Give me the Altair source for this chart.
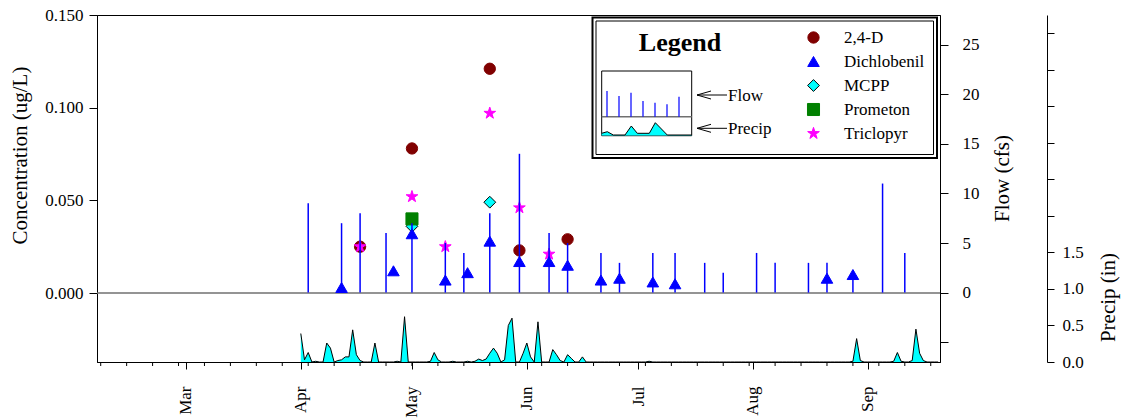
import altair as alt
import pandas as pd

YEAR = "2001"

# ---------------- data ----------------
flow_dates = ["04-03", "04-12", "04-17", "04-24", "05-01", "05-10", "05-15", "05-22",
              "05-30", "06-07", "06-12", "06-21", "06-26", "07-05", "07-11", "07-19",
              "07-24", "08-02", "08-07", "08-16", "08-21", "08-28", "09-05", "09-11"]
flow_cfs = [9, 7, 8, 6, 7, 5, 4, 8, 14, 6, 5, 4, 3, 4, 4, 3, 2, 4, 3, 3, 3, 2, 11, 4]

compounds = ["2,4-D", "Dichlobenil", "MCPP", "Prometon", "Triclopyr"]

d24_dates = ["04-17", "05-01", "05-22", "05-30", "06-12"]
d24_conc = [0.025, 0.078, 0.121, 0.023, 0.029]

dichlobenil_dates = ["04-12", "04-26", "05-01", "05-10", "05-16", "05-22", "05-30", "06-07",
                     "06-12", "06-21", "06-26", "07-05", "07-11", "08-21", "08-28"]
dichlobenil_conc = [0.003, 0.012, 0.032, 0.007, 0.011, 0.028, 0.017, 0.017,
                    0.015, 0.007, 0.008, 0.006, 0.005, 0.008, 0.010]

mcpp_dates = ["05-01", "05-22"]
mcpp_conc = [0.036, 0.049]

prometon_dates = ["05-01"]
prometon_conc = [0.040]

triclopyr_dates = ["04-17", "05-01", "05-10", "05-22", "05-30", "06-07"]
triclopyr_conc = [0.025, 0.052, 0.025, 0.097, 0.046, 0.021]

# daily precipitation (in) from Apr 1
precip_start = "04-01"
precip_in = [
    0.39, 0.03, 0.13, 0.00, 0.01, 0.00, 0.00, 0.26, 0.19, 0.00,
    0.02, 0.03, 0.07, 0.07, 0.44, 0.10, 0.02, 0.00, 0.00, 0.00,
    0.26, 0.00, 0.00, 0.00, 0.00, 0.00, 0.01, 0.00, 0.62, 0.00,
    0.00, 0.00, 0.00, 0.00, 0.00, 0.01, 0.13, 0.03, 0.00, 0.00,
    0.00, 0.01, 0.00, 0.00, 0.00, 0.01, 0.00, 0.01, 0.04, 0.02,
    0.04, 0.12, 0.19, 0.12, 0.00, 0.03, 0.50, 0.60, 0.00, 0.00,
    0.12, 0.26, 0.07, 0.00, 0.55, 0.00, 0.00, 0.00, 0.17, 0.10,
    0.02, 0.00, 0.10, 0.05, 0.00, 0.00, 0.07, 0.00, 0.00, 0.00,
    0.00, 0.00, 0.00, 0.00, 0.00, 0.00, 0.00, 0.00, 0.00, 0.00,
    0.00, 0.00, 0.00, 0.00, 0.01, 0.00, 0.00, 0.00, 0.00, 0.00,
    0.00, 0.00, 0.00, 0.00, 0.00, 0.00, 0.00, 0.00, 0.00, 0.00,
    0.00, 0.00, 0.00, 0.00, 0.00, 0.00, 0.00, 0.00, 0.00, 0.00,
    0.00, 0.00, 0.00, 0.00, 0.00, 0.00, 0.00, 0.00, 0.00, 0.00,
    0.00, 0.00, 0.00, 0.00, 0.00, 0.00, 0.00, 0.00, 0.00, 0.00,
    0.00, 0.00, 0.00, 0.00, 0.00, 0.00, 0.00, 0.00, 0.00, 0.01,
    0.32, 0.02, 0.00, 0.00, 0.00, 0.00, 0.00, 0.00, 0.00, 0.00,
    0.01, 0.13, 0.01, 0.00, 0.00, 0.02, 0.45, 0.12, 0.02, 0.00,
    0.00, 0.00, 0.00,
]

month_names = ["Mar", "Apr", "May", "Jun", "Jul", "Aug", "Sep"]

# legend inset sketch (schematic sample heights, pixel space)
inset_flow_x = [510, 522, 534, 546, 558, 570, 582]
inset_flow_top = [76, 81, 77.7, 86, 87.7, 89.3, 81.7]
inset_precip_x = [504.7, 510.3, 516.3, 528, 534.3, 540.3, 552.3, 558.3, 570.3, 594.7]
inset_precip_y = [118.3, 116.7, 120, 120, 111, 118.3, 118.3, 107.7, 120, 120]


def doy(md):
    return int(pd.Timestamp(f"{YEAR}-{md}").dayofyear)


# ---------------- tables ----------------
flow_df = pd.DataFrame({"day": [doy(d) for d in flow_dates], "flow": flow_cfs})

start = doy(precip_start)
precip_df = pd.DataFrame({"day": [start + i for i in range(len(precip_in))],
                          "precip": precip_in})

rows = []
for name, dates, vals in [("MCPP", mcpp_dates, mcpp_conc),
                          ("2,4-D", d24_dates, d24_conc),
                          ("Triclopyr", triclopyr_dates, triclopyr_conc),
                          ("Prometon", prometon_dates, prometon_conc),
                          ("Dichlobenil", dichlobenil_dates, dichlobenil_conc)]:
    for d, v in zip(dates, vals):
        rows.append({"day": doy(d), "conc": v, "compound": name})
conc_df = pd.DataFrame(rows)

month_days = [doy(f"{m:02d}-01") for m in range(3, 10)]
week_days = list(range(doy("02-06"), doy("09-18") + 1, 7))
week_df = pd.DataFrame({"day": week_days})

inset_stem_df = pd.DataFrame({"sx": inset_flow_x, "top": inset_flow_top})
inset_area_df = pd.DataFrame({"px": inset_precip_x, "py": inset_precip_y,
                              "base": [120.5] * len(inset_precip_x)})
arrow_df = pd.DataFrame({
    "x1": [600, 600, 600, 600, 600, 600],
    "y1": [80, 80, 80, 113.3, 113.3, 113.3],
    "x2": [630, 614, 614, 630, 614, 614],
    "y2": [80, 76, 84, 113.3, 109.3, 117.3],
})
one = pd.DataFrame({"a": [0]})

# ---------------- layout ----------------
W, H = 843, 347
SERIF = "Liberation Serif"
x_scale = alt.Scale(domain=[36, 263.5], nice=False, zero=False)
label_expr = " : ".join(f"datum.value == {d} ? '{n}'" for d, n in zip(month_days, month_names)) + " : ''"
x_axis = alt.Axis(values=month_days, labelExpr=label_expr, tickSize=7, labelAngle=270,
                  labelAlign="right", labelBaseline="middle", labelPadding=17,
                  labelFont=SERIF, title=None, grid=False, labelOverlap=False, labelFlush=False)
x_main = alt.X("day:Q", scale=x_scale, axis=x_axis)
x_plain = alt.X("day:Q", scale=x_scale, axis=None)

conc_scale = alt.Scale(domain=[-0.0372, 0.15], nice=False, zero=False)
flow_scale = alt.Scale(domain=[-7, 28], nice=False, zero=False)
precip_scale = alt.Scale(domain=[0, 4.75], nice=False, zero=False)

precip_layer = alt.Chart(precip_df).mark_area(
    color="#00ffff", fillOpacity=1, interpolate="linear",
    line=alt.OverlayMarkDef(color="black", strokeWidth=1)
).encode(
    x=x_main,
    y=alt.Y("precip:Q", scale=precip_scale,
            axis=alt.Axis(orient="right", offset=107, values=[i * 0.5 for i in range(10)],
                          format=".1f", labelExpr="datum.value > 1.6 ? '' : datum.label",
                          tickSize=7, labelPadding=8, title="Precip (in)",
                          labelFont=SERIF, titleFont=SERIF,
                          titleAngle=270, titleAlign="center", titleBaseline="middle",
                          titleX=61, titleY=282, grid=False)),
)

week_layer = alt.Chart(week_df).mark_rule(color="black", strokeWidth=1).encode(
    x=x_plain, y=alt.value(H), y2=alt.value(H + 4)
)

zero_layer = alt.Chart(one).mark_rule(color="#707070", strokeWidth=1.5).encode(
    y=alt.YDatum(0, type="quantitative", scale=conc_scale, axis=None)
)

fills = ["#800000", "#0000ff", "#00ffff", "#008000", "#ff00ff"]
strokes = ["#800000", "#0000ff", "#000000", "#008000", "#ff00ff"]
star = ("M0,-1L0.2245,-0.309L0.951,-0.309L0.363,0.118L0.588,0.809L0,0.382"
        "L-0.588,0.809L-0.363,0.118L-0.951,-0.309L-0.2245,-0.309Z")
shapes = ["circle", "triangle-up", "diamond", "square", star]
sizes = [128, 151, 205, 128, 216]

leg = alt.Legend(title=None, orient="none", legendX=708, legendY=14,
                 labelFont=SERIF, labelFontSize=17, labelColor="black",
                 rowPadding=6, labelOffset=22, symbolOpacity=1,
                 symbolStrokeWidth=1, padding=0)

points_layer = alt.Chart(conc_df).mark_point(filled=True, opacity=1, strokeWidth=1).encode(
    x=x_plain,
    y=alt.Y("conc:Q", scale=conc_scale,
            axis=alt.Axis(orient="left", values=[0, 0.05, 0.1, 0.15], format=".3f",
                          tickSize=8, labelPadding=6, title="Concentration (ug/L)",
                          labelFont=SERIF, titleFont=SERIF,
                          titleAngle=270, titleAlign="center", titleBaseline="middle",
                          titleX=-77, titleY=140, grid=False)),
    color=alt.Color("compound:N", scale=alt.Scale(domain=compounds, range=fills), legend=leg),
    shape=alt.Shape("compound:N", scale=alt.Scale(domain=compounds, range=shapes), legend=leg),
    stroke=alt.Stroke("compound:N", scale=alt.Scale(domain=compounds, range=strokes), legend=leg),
    size=alt.Size("compound:N", scale=alt.Scale(domain=compounds, range=sizes), legend=leg),
)

flow_layer = alt.Chart(flow_df).mark_rule(color="#0000ff", strokeWidth=1.5).encode(
    x=x_plain,
    y=alt.Y("flow:Q", scale=flow_scale,
            axis=alt.Axis(orient="right", values=[-5, 0, 5, 10, 15, 20, 25], format="d",
                          labelExpr="datum.value < 0 ? '' : datum.label",
                          tickSize=8, labelPadding=14, title="Flow (cfs)",
                          labelFont=SERIF, titleFont=SERIF,
                          titleAngle=270, titleAlign="center", titleBaseline="middle",
                          titleX=62, titleY=163, grid=False)),
    y2=alt.Y2Datum(0),
)

# ---- hand-drawn legend box ----
box_outer = alt.Chart(one).mark_rect(filled=False, stroke="black", strokeWidth=2).encode(
    x=alt.value(495.5), x2=alt.value(840), y=alt.value(2.5), y2=alt.value(143))
box_inner = alt.Chart(one).mark_rect(filled=False, stroke="black", strokeWidth=1).encode(
    x=alt.value(499), x2=alt.value(836.5), y=alt.value(6), y2=alt.value(139.5))
legend_title = alt.Chart(one).mark_text(
    text="Legend", font=SERIF, fontSize=26, fontWeight="bold", color="black",
    align="center", baseline="middle").encode(x=alt.value(583), y=alt.value(28))
inset_box = alt.Chart(one).mark_rect(filled=False, stroke="black", strokeWidth=1).encode(
    x=alt.value(504.7), x2=alt.value(594.7), y=alt.value(56), y2=alt.value(120.7))
inset_zero = alt.Chart(one).mark_rule(color="#707070", strokeWidth=1.5).encode(
    x=alt.value(504.7), x2=alt.value(594.7), y=alt.value(101.7))
inset_area = alt.Chart(inset_area_df).mark_area(
    color="#00ffff", fillOpacity=1, line=alt.OverlayMarkDef(color="black", strokeWidth=1)
).encode(x=alt.X("px:Q", scale=None), y=alt.Y("py:Q", scale=None), y2=alt.Y2("base:Q"))
inset_stems = alt.Chart(inset_stem_df).mark_rule(color="#0000ff", strokeWidth=1.2).encode(
    x=alt.X("sx:Q", scale=None), y=alt.Y("top:Q", scale=None), y2=alt.value(101.7))
arrows = alt.Chart(arrow_df).mark_rule(color="black", strokeWidth=1).encode(
    x=alt.X("x1:Q", scale=None), y=alt.Y("y1:Q", scale=None),
    x2=alt.X2("x2:Q"), y2=alt.Y2("y2:Q"))
flow_txt = alt.Chart(one).mark_text(text="Flow", font=SERIF, fontSize=17, color="black",
                                    align="left", baseline="middle").encode(
    x=alt.value(631), y=alt.value(80.5))
precip_txt = alt.Chart(one).mark_text(text="Precip", font=SERIF, fontSize=17, color="black",
                                      align="left", baseline="middle").encode(
    x=alt.value(631), y=alt.value(113.5))

chart = alt.layer(
    precip_layer, week_layer, zero_layer, points_layer, flow_layer,
    box_outer, box_inner, legend_title, inset_box, inset_area, inset_zero,
    inset_stems, arrows, flow_txt, precip_txt,
).resolve_scale(x="independent", y="independent").properties(
    width=W, height=H,
    autosize=alt.AutoSizeParams(type="none"),
    padding={"left": 97, "top": 15, "right": 188, "bottom": 57},
    background="white",
).configure(font=SERIF).configure_axis(
    labelFont=SERIF, labelFontSize=17, labelColor="black",
    titleFont=SERIF, titleFontSize=21, titleFontWeight="normal", titleColor="black",
    domainColor="black", tickColor="black", domainWidth=1, tickWidth=1,
).configure_legend(labelFont=SERIF).configure_view(stroke="black", strokeWidth=1)

chart.save("out.html", embed_options={"renderer": "svg", "actions": False})
